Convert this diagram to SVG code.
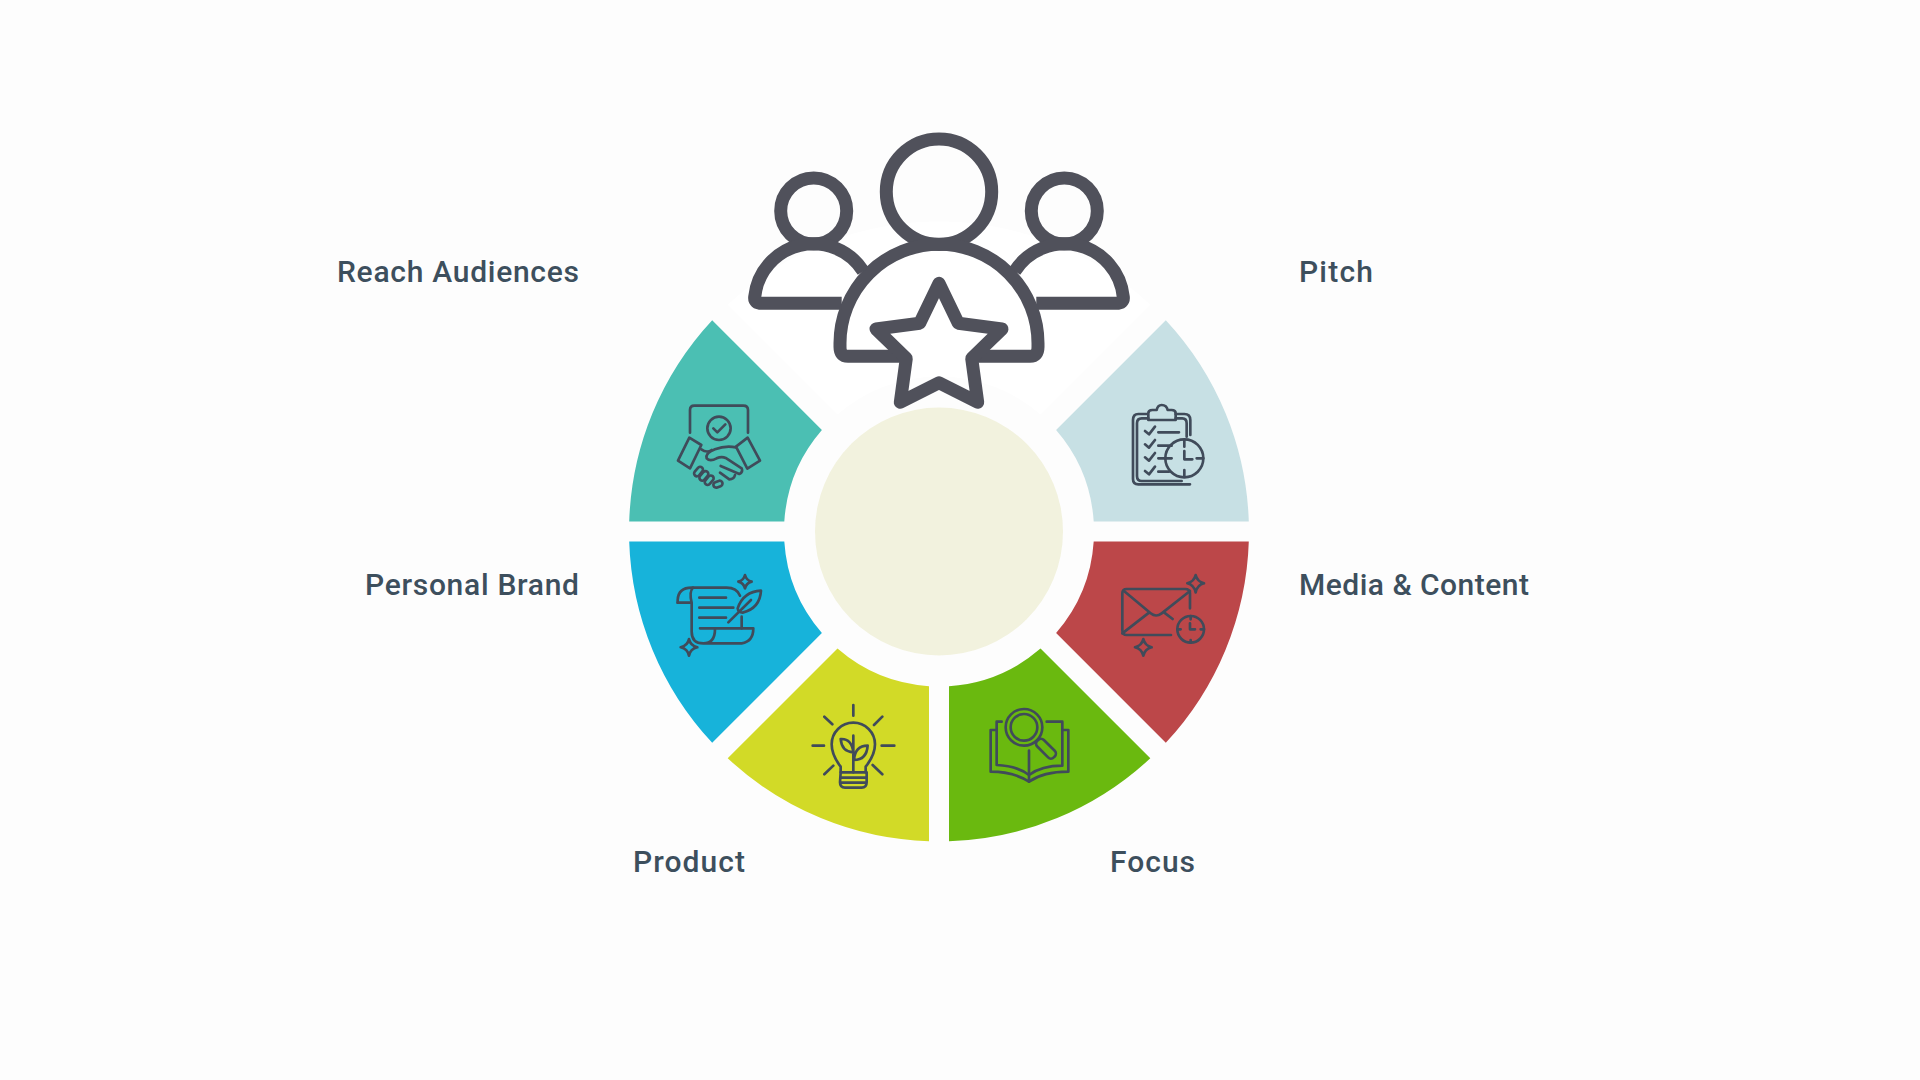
<svg xmlns="http://www.w3.org/2000/svg" width="1920" height="1080" viewBox="0 0 1920 1080">
<style>
text{font-family:"Roboto","Liberation Sans",sans-serif;font-weight:500;font-size:30px;fill:#3D4F5D}
.ic{fill:none;stroke:#404B5A;stroke-width:8;stroke-linecap:round;stroke-linejoin:round}
.big{fill:none;stroke:#50515B;stroke-width:13;stroke-linejoin:round}
</style>
<rect width="1920" height="1080" fill="#FDFDFD"/>
<g id="wheel" transform="translate(939 531.5)">
<path id="seg-top" fill="#FFFFFF" d="M-211.3 -226.8A310 310 0 0 1 211.3 -226.8L101.5 -117.1A155 155 0 0 0 -101.5 -117.1Z"/>
<path id="seg-pitch" fill="#C7E0E4" d="M226.8 -211.3A310 310 0 0 1 309.8 -10H154.7A155 155 0 0 0 117.1 -101.5Z"/>
<path id="seg-media" fill="#BC4749" d="M309.8 10A310 310 0 0 1 226.8 211.3L117.1 101.5A155 155 0 0 0 154.7 10Z"/>
<path id="seg-focus" fill="#6AB90F" d="M211.3 226.8A310 310 0 0 1 10 309.8V154.7A155 155 0 0 0 101.5 117.1Z"/>
<path id="seg-product" fill="#D2DA27" d="M-10 309.8A310 310 0 0 1 -211.3 226.8L-101.5 117.1A155 155 0 0 0 -10 154.7Z"/>
<path id="seg-brand" fill="#17B3DA" d="M-226.8 211.3A310 310 0 0 1 -309.8 10H-154.7A155 155 0 0 0 -117.1 101.5Z"/>
<path id="seg-reach" fill="#4BBFB3" d="M-309.8 -10A310 310 0 0 1 -226.8 -211.3L-117.1 -101.5A155 155 0 0 0 -154.7 -10Z"/>
<circle id="hub" r="124" fill="#F2F2DE"/>
</g>
<g id="people" class="big">
<circle cx="939" cy="191.7" r="52.7"/>
<circle cx="813.7" cy="211" r="33"/>
<circle cx="1064.3" cy="211" r="33"/>
<path d="M902 356.3H848Q840 356.3 840 347V343.3A99 99 0 0 1 1038 343.3V347Q1038 356.3 1030 356.3H976"/>
<path d="M863.3 271.3A59 59 0 0 0 754.7 297Q754 303.3 762 303.3H841.7"/>
<path d="M1014.7 271.3A59 59 0 0 1 1123.3 297Q1124 303.3 1116 303.3H1036.3"/>
<path d="M939 283.3L958.3 323.3L1002 329L971.7 358.3L977.7 402.3L939 382.7L900.3 402.3L906.3 358.3L876 329L919.7 323.3Z"/>
</g>
<g id="icon-reach" class="ic" transform="translate(660 390) scale(.3333)">
<path d="M90 128V60Q90 47 103 47H250Q264 47 264 60V128"/>
<circle cx="177" cy="115" r="35"/><path d="M160 115L172 127L196 103"/>
<path d="M88 143L124 165L90 235L54 212Z"/><path d="M263 143L300 212L262 236L228 170Z"/>
<path d="M124 178Q140 190 155 180"/>
<path d="M228 172Q195 166 165 178Q135 190 140 205Q150 216 170 205Q185 198 197 204L245 235Q250 247 238 252L182 228"/>
<path d="M225 255Q222 268 208 268L180 248"/>
<rect x="100" y="236" width="32" height="17" rx="8.5" transform="rotate(-50 116 245)"/>
<rect x="116" y="249" width="32" height="17" rx="8.5" transform="rotate(-50 132 258)"/>
<rect x="132" y="262" width="32" height="17" rx="8.5" transform="rotate(-50 148 271)"/>
<rect x="160" y="274" width="28" height="17" rx="8.5" transform="rotate(-20 174 283)"/>
</g>
<g id="icon-pitch" class="ic" transform="translate(1115 395) scale(.3333)">
<path d="M98 57H70Q54 57 54 75V252Q54 268 70 268H225"/>
<path d="M100 70H80Q66 70 66 85V243Q66 258 80 258H200"/>
<path d="M182 57H208Q226 57 226 75V120M182 70H202Q215 70 215 85V125"/>
<path d="M100 75V55Q100 45 112 45H125Q128 30 140 30Q155 30 158 45H170Q182 45 182 55V75Z"/>
<path d="M90 108L102 118L120 95M90 148L102 158L120 135M90 187L102 197L120 174M90 228L102 238L120 215"/>
<path d="M130 112H192M130 152H170M130 190H150M130 230H162"/>
<circle cx="208" cy="190" r="57"/>
<path d="M208 135V155M208 225V245M150 190H170M245 190H265M208 168V193H232"/>
</g>
<g id="icon-media" class="ic" transform="translate(1110 565) scale(.3333)">
<path d="M240 130V85Q240 72 225 72H50Q37 72 37 85V195Q37 210 50 210H183"/>
<path d="M42 78L122 145Q138 158 155 145L240 78M37 205L118 142M162 142L188 162"/>
<circle cx="242" cy="193" r="40"/>
<path d="M242 153V163M242 225V233M203 193H212M272 193H282M240 175V193H255"/>
<path d="M257 30Q262 50 282 55Q262 60 257 82Q252 60 232 55Q252 50 257 30Z"/>
<path d="M100 222Q105 242 125 247Q105 252 100 272Q95 252 75 247Q95 242 100 222Z"/>
</g>
<g id="icon-focus" class="ic" transform="translate(975 700) scale(.3333)">
<circle cx="147" cy="82" r="55"/><circle cx="147" cy="82" r="40"/>
<rect x="178" y="132" width="70" height="28" rx="12" transform="rotate(45 213 146)"/>
<path d="M80 65H65V195Q125 197 162 225Q200 197 262 197V65H215"/>
<path d="M65 90H47V215Q115 215 162 245Q205 215 280 215V90H262"/>
<path d="M162 152V245"/>
</g>
<g id="icon-product" class="ic" transform="translate(800 695) scale(.3333)">
<path d="M160 30V62M73 65L97 88M247 65L222 90M38 152H72M245 152H283M73 238L100 212M247 238L218 210"/>
<path d="M122 232V215Q95 180 95 148A65 65 0 0 1 225 148Q225 180 197 215V232"/>
<path d="M122 232H200V262Q200 278 185 278H135Q120 278 120 262ZM122 248H200M122 263H200"/>
<path d="M160 122V232M160 172Q125 170 122 132Q155 130 160 172ZM162 195Q200 195 203 152Q165 152 162 195Z"/>
</g>
<g id="icon-brand" class="ic" transform="translate(665 565) scale(.3333)">
<path d="M38 113V105Q40 68 80 68H185Q215 68 225 92"/>
<path d="M38 113H80M84 68Q72 80 80 113V200Q80 235 115 235H230Q265 230 265 190H105M150 192Q150 235 115 235"/>
<path d="M103 98H183M103 128H205M103 158H183"/>
<path d="M288 77Q235 80 218 130Q220 143 233 143Q285 130 288 77ZM190 172L258 105M230 155V190"/>
<path d="M240 30Q244 46 260 50Q244 54 240 70Q236 54 220 50Q236 46 240 30Z"/>
<path d="M72 222Q76 242 97 247Q76 252 72 272Q68 252 47 247Q68 242 72 222Z"/>
</g>
<g id="labels">
<text id="label-reach" x="579" y="282" text-anchor="end" textLength="242" lengthAdjust="spacing">Reach Audiences</text>
<text id="label-brand" x="579" y="595" text-anchor="end" textLength="214" lengthAdjust="spacing">Personal Brand</text>
<text id="label-product" x="633" y="872" textLength="112" lengthAdjust="spacing">Product</text>
<text id="label-pitch" x="1299" y="282" textLength="74" lengthAdjust="spacing">Pitch</text>
<text id="label-media" x="1299" y="595" textLength="230" lengthAdjust="spacing">Media &amp; Content</text>
<text id="label-focus" x="1110" y="872" textLength="85" lengthAdjust="spacing">Focus</text>
</g>
</svg>
